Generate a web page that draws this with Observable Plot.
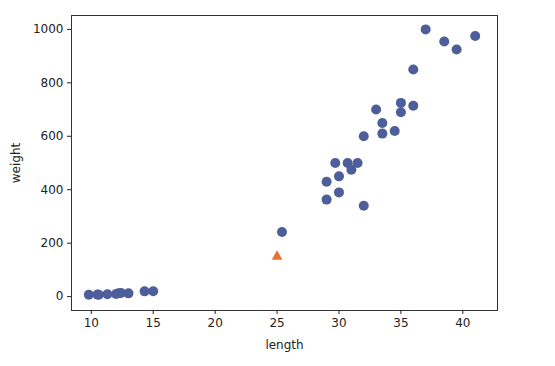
<!DOCTYPE html>
<html>
<head>
<meta charset="utf-8">
<script src="https://cdn.jsdelivr.net/npm/d3@7"></script>
<script src="https://cdn.jsdelivr.net/npm/@observablehq/plot@0.6"></script>
<style>
  html, body { margin: 0; padding: 0; background: #fff; }
  #chart svg { display: block; }
</style>
</head>
<body>
<div id="chart"></div>
<script>
// Training fish (blue circles)
const trainLength = [9.8, 10.5, 10.6, 11.3, 12.0, 12.2, 12.4, 13.0, 14.3, 15.0,
  25.4, 29.0, 29.0, 29.7, 30.0, 30.0, 30.7, 31.0, 31.5, 32.0, 32.0, 33.0, 33.5, 33.5,
  34.5, 35.0, 35.0, 36.0, 36.0, 37.0, 38.5, 39.5, 41.0];
const trainWeight = [6.7, 7.5, 7.0, 8.7, 9.8, 12.2, 13.4, 12.2, 19.7, 19.9,
  242, 430, 363, 500, 450, 390, 500, 475, 500, 600, 340, 700, 650, 610,
  620, 725, 690, 850, 714, 1000, 955, 925, 975];
// New sample (orange triangle)
const newLength = [25];
const newWeight = [150];

const xTicks = [10, 15, 20, 25, 30, 35, 40];
const yTicks = [0, 200, 400, 600, 800, 1000];

const train = trainLength.map((l, i) => ({length: l, weight: trainWeight[i]}));
const sample = newLength.map((l, i) => ({length: l, weight: newWeight[i]}));

const chart = Plot.plot({
  width: 555,
  height: 366,
  marginLeft: 71,
  marginRight: 58,
  marginTop: 15,
  marginBottom: 56,
  style: {fontFamily: "DejaVu Sans", fontSize: "12px", color: "#222", background: "#fff"},
  x: {domain: [8.4, 42.8]},
  y: {domain: [-52, 1052]},
  marks: [
    Plot.frame({stroke: "#333", strokeWidth: 1}),
    Plot.axisX({ticks: xTicks, tickFormat: d3.format("d"), tickSize: 4, tickPadding: 4, fontSize: 12,
      label: "length", labelAnchor: "center", labelArrow: "none", labelOffset: 38}),
    Plot.axisY({ticks: yTicks, tickFormat: d3.format("d"), tickSize: 4, tickPadding: 4, fontSize: 12,
      label: "weight", labelAnchor: "center", labelArrow: "none", labelOffset: 60}),
    Plot.dot(train, {x: "length", y: "weight", r: 5, fill: "#4e5e9a", stroke: "none"}),
    Plot.dot(sample, {x: "length", y: "weight", r: 4, symbol: "triangle", fill: "#ea7033", stroke: "none"})
  ]
});
document.getElementById("chart").appendChild(chart);
</script>
</body>
</html>
